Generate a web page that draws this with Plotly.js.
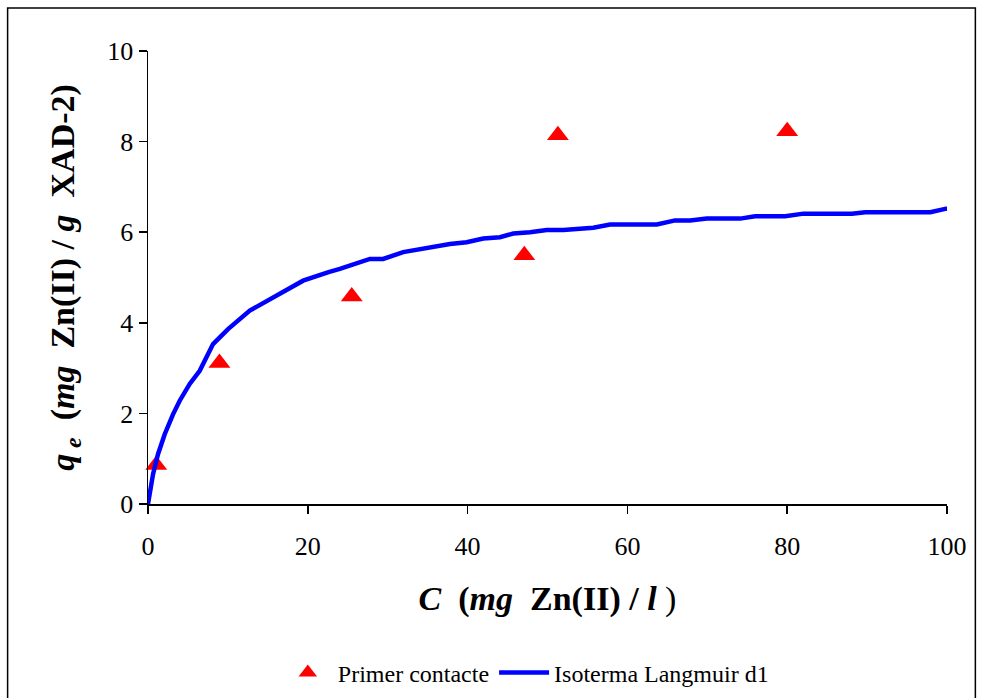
<!DOCTYPE html>
<html>
<head>
<meta charset="utf-8">
<script src="https://cdn.plot.ly/plotly-3.0.1.min.js"></script>
<style>
html,body{margin:0;padding:0;background:#fff;}
#chart{width:981px;height:698px;}
</style>
</head>
<body>
<div id="chart"></div>
<script>
// Experimental points: "Primer contacte"
var expC = [1.03, 8.94, 25.5, 47.1, 51.3, 80.0];
var expQ = [0.86, 3.11, 4.58, 5.49, 8.14, 8.23];

// Langmuir isotherm curve
var isoC = [0, 0.63, 1.25, 1.68, 2.09, 3.13, 3.97, 5.22, 6.47, 8.14, 10.02, 12.74, 15.66, 19.41, 22.6, 24.01,
            27.77, 29.43, 31.94, 34.03, 37.79, 39.88, 41.96, 44.05, 45.72, 47.81, 49.90, 51.98, 55.74,
            57.83, 59.92, 63.68, 65.97, 67.85, 69.94, 74.11, 75.99, 79.75, 82.04, 88.10, 89.77, 97.91, 99.9, 101.2];
var isoQ = [0, 0.66, 1.10, 1.32, 1.54, 1.98, 2.28, 2.65, 2.94, 3.53, 3.86, 4.27, 4.56, 4.93, 5.12, 5.19,
            5.41, 5.41, 5.56, 5.63, 5.74, 5.78, 5.86, 5.89, 5.97, 6.00, 6.05, 6.05, 6.10,
            6.17, 6.17, 6.17, 6.26, 6.26, 6.30, 6.30, 6.35, 6.35, 6.41, 6.41, 6.44, 6.44, 6.52, 6.52];

var xTicks = [0, 20, 40, 60, 80, 100];
var yTicks = [0, 2, 4, 6, 8, 10];

var serif = 'Liberation Serif, Times New Roman, serif';

var traces = [
  {
    x: expC, y: expQ, type: 'scatter', mode: 'markers', name: 'Primer contacte',
    marker: {symbol: 'triangle-up', color: '#FF0000', size: 19, line: {width: 0}},
    cliponaxis: false
  },
  {
    x: isoC, y: isoQ, type: 'scatter', mode: 'lines', name: 'Isoterma Langmuir d1',
    line: {color: '#0000FF', width: 4.5}
  }
];

var layout = {
  width: 981, height: 698,
  margin: {l: 148, r: 34, t: 51, b: 194},
  paper_bgcolor: '#ffffff', plot_bgcolor: '#ffffff',
  font: {family: serif, color: '#000000', size: 24},
  showlegend: true,
  legend: {
    orientation: 'h', xref: 'container', yref: 'container',
    x: 0.536, xanchor: 'center', y: 0.036, yanchor: 'middle',
    font: {family: serif, size: 24, color: '#000'}, itemwidth: 50,
    bgcolor: 'rgba(0,0,0,0)', traceorder: 'normal'
  },
  xaxis: {
    range: [0, 100], tickvals: xTicks, ticktext: xTicks.map(String),
    showgrid: false, zeroline: false, showline: true, linecolor: '#000', linewidth: 1.5,
    ticks: 'outside', ticklen: 8, tickwidth: 1.5, tickcolor: '#000',
    tickfont: {family: serif, size: 26}, ticklabelstandoff: 10, automargin: false,
    title: {
      text: '<b><i>C</i></b>&nbsp;&nbsp;<b>(<i>mg</i>&nbsp;&nbsp;Zn(II) / <i>l</i></b>&nbsp;)',
      font: {family: serif, size: 34}, standoff: 26
    }
  },
  yaxis: {
    range: [0, 10], tickvals: yTicks, ticktext: yTicks.map(String),
    showgrid: false, zeroline: false, showline: true, linecolor: '#000', linewidth: 1.5,
    ticks: 'outside', ticklen: 8, tickwidth: 1.5, tickcolor: '#000',
    tickfont: {family: serif, size: 26}, automargin: false,
    title: {
      text: '<b><i>q</i></b><sub><b><i> e</i></b></sub>&nbsp;&nbsp;<b>(<i>mg</i>&nbsp;&nbsp;Zn(II) / <i>g</i>&nbsp;&nbsp;XAD-2)</b>',
      font: {family: serif, size: 34}, standoff: 22
    }
  },
  shapes: [{
    type: 'rect', xref: 'paper', yref: 'paper',
    x0: -0.1757, x1: 1.0355, y0: -0.45, y1: 1.095,
    line: {color: '#000', width: 1.5}, fillcolor: 'rgba(0,0,0,0)', layer: 'below'
  }]
};

Plotly.newPlot('chart', traces, layout, {displayModeBar: false, staticPlot: true});
</script>
</body>
</html>
